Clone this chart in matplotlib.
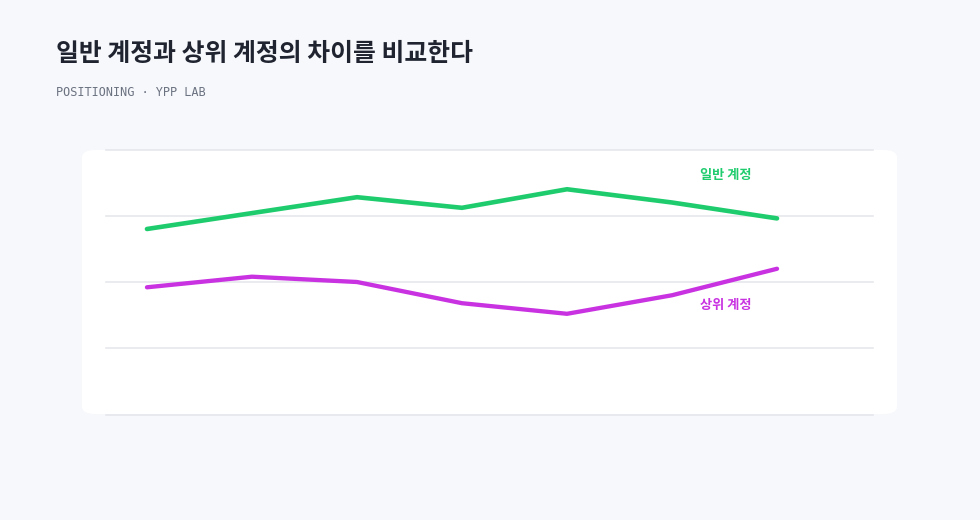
import matplotlib
matplotlib.use('Agg')
import matplotlib.pyplot as plt
from matplotlib.patches import FancyBboxPatch

# data
periods = [0, 1, 2, 3, 4, 5, 6]
normal = [70, 76, 82, 78, 85, 80, 74]   # 일반 계정
top = [48, 52, 50, 42, 38, 45, 55]      # 상위 계정
y_ticks = [0, 25, 50, 75, 100]

title = '일반 계정과 상위 계정의 차이를 비교한다'
subtitle = 'POSITIONING · YPP LAB'
name_normal = '일반 계정'
name_top = '상위 계정'

GREEN = '#1ecc6e'
MAGENTA = '#c832e1'
BG = '#f7f8fc'

plt.rcParams['font.family'] = ['Noto Sans CJK KR', 'DejaVu Sans']

fig = plt.figure(figsize=(9.8, 5.2), dpi=100)
fig.patch.set_facecolor(BG)

W, H = 980., 520.
# white card behind the plot
card = FancyBboxPatch((82 / W, 1 - 414 / H), 815 / W, 264 / H,
                      boxstyle='round,pad=0,rounding_size=0.014',
                      transform=fig.transFigure, facecolor='white',
                      edgecolor='none', zorder=-5)
fig.patches.append(card)

ax = fig.add_axes([106 / W, 1 - 414.5 / H, 767 / W, 265 / H])
ax.set_facecolor('none')
ax.set_xlim(-0.39, 6.914)
ax.set_ylim(0, 100)
for v in y_ticks:
    ax.axhline(v, color='#e3e5ea', lw=1.1, zorder=1, clip_on=False)
for s in ax.spines.values():
    s.set_visible(False)
ax.set_xticks([])
ax.set_yticks([])

ax.plot(periods, normal, color=GREEN, lw=3.3, solid_capstyle='round',
        solid_joinstyle='miter', zorder=3)
ax.plot(periods, top, color=MAGENTA, lw=3.1, solid_capstyle='round',
        solid_joinstyle='miter', zorder=3)

ax.text(5.27, normal[-1] + 16.2, name_normal, color=GREEN, fontsize=9.5,
        fontweight='bold', ha='left', va='center')
ax.text(5.27, top[-1] - 13.8, name_top, color=MAGENTA, fontsize=9.5,
        fontweight='bold', ha='left', va='center')

fig.text(56 / W, 1 - 54 / H, title, fontsize=17.9, fontweight='bold',
         color='#1f2430', ha='left', va='center')
fig.text(56 / W, 1 - 93 / H, subtitle, fontsize=8.6, color='#6b7280',
         family=['DejaVu Sans Mono'], ha='left', va='center')

fig.savefig('out.png', dpi=100, facecolor=BG)
